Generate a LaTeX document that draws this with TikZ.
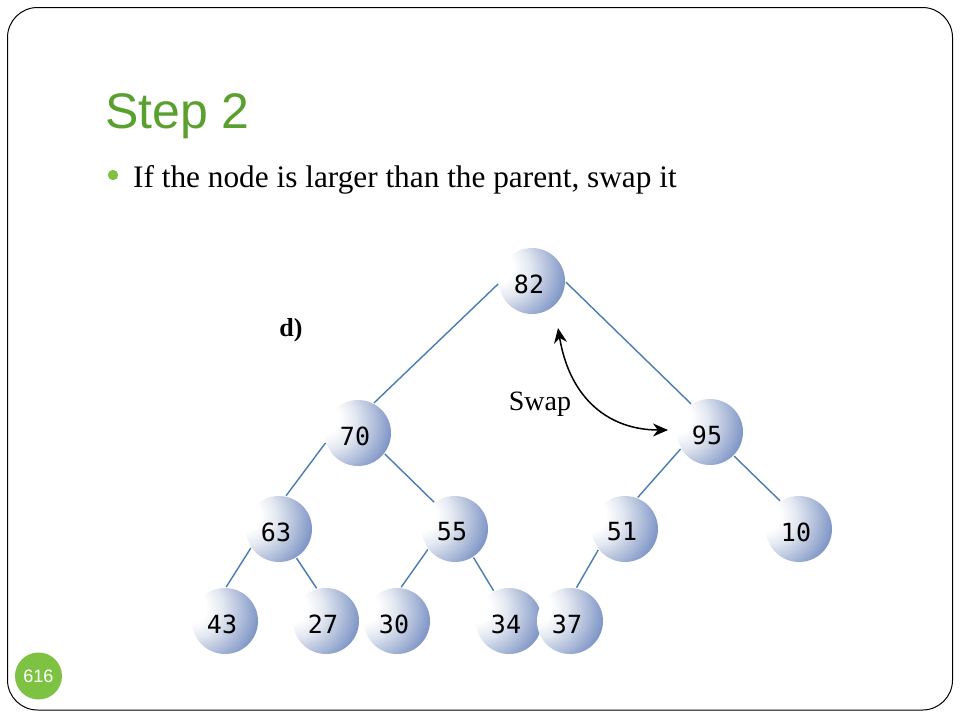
\documentclass[tikz,border=0pt]{standalone}
\usepackage{fontspec}
\setmainfont{Liberation Serif}
\newfontfamily\sansf{Liberation Sans}
\newfontfamily\monof{DejaVu Sans Mono}
\usetikzlibrary{arrows.meta}
\definecolor{titlegreen}{HTML}{5AA02E}
\definecolor{dotgreen}{HTML}{7DC243}
\definecolor{edgeblue}{HTML}{4A7CB4}
\definecolor{bA}{HTML}{E2E7F0}
\definecolor{bB}{HTML}{AFBDDA}
\definecolor{bC}{HTML}{7890C4}
\definecolor{bD}{HTML}{4C6BAA}
\definecolor{bE}{HTML}{38589A}
\pgfdeclareradialshading{heapball}{\pgfpoint{-30bp}{12bp}}{%
  color(0bp)=(white); color(12bp)=(white); color(22bp)=(bA);
  color(33bp)=(bB); color(44bp)=(bC); color(53bp)=(bD); color(100bp)=(bE)}
\tikzset{
  heapnode/.style={circle, minimum size=66pt, inner sep=0pt, outer sep=1pt, shading=heapball},
  numtext/.style={font=\monof\fontsize{25}{25}\selectfont, inner sep=0pt},
  tedge/.style={draw=edgeblue, line width=1.4pt},
}
\newcommand\heapn[3]{%
  \node[heapnode] (#1) at (#2) {};
  \node[numtext] (#1t) at ([shift={(-3,3)}]#1.center) {#3};}
\begin{document}
\begin{tikzpicture}[x=1pt,y=-1pt]
\useasboundingbox (0,0) rectangle (960,720);
\fill[white] (0,0) rectangle (960,720);
% frame
\draw[line width=1pt, rounded corners=30pt] (7.5,7.5) rectangle (952.5,710);
% title
\node[anchor=base west, inner sep=0pt, text=titlegreen, font=\sansf\fontsize{50}{50}\selectfont] (title) at (105,128) {Step 2};
% bullet
\fill[dotgreen] (113,175) circle (5.2pt);
\node[anchor=base west, inner sep=0pt, font=\fontsize{31.3}{31.3}\selectfont] (bullet) at (133,187) {If the node is larger than the parent, swap it};
% page number
\node[circle, fill=dotgreen, minimum size=47pt, inner sep=0pt, text=white, font=\sansf\fontsize{18}{18}\selectfont] (pnum) at (38.5,676) {616};
% label d)
\node[font=\fontsize{26}{26}\selectfont\bfseries, inner sep=0pt] (dlab) at (291,330) {d)};
% nodes
\heapn{n82}{532,281}{82}
\heapn{n70}{358,433}{70}
\heapn{n95}{710,432}{95}
\heapn{n63}{279,529}{63}
\heapn{n55}{455,529}{55}
\heapn{n51}{625,529}{51}
\heapn{n10}{799,529}{10}
\heapn{n43}{225,621}{43}
\heapn{n27}{326,621}{27}
\heapn{n30}{397,621}{30}
\heapn{n34}{509,621}{34}
\heapn{n37}{570,621}{37}
% edges
\draw[tedge] (n82.185) -- (n70.62);
\draw[tedge] (n82.-2) -- (n95.124);
\draw[tedge] (n70.197) -- (n63.78);
\draw[tedge] (n70.-38) -- (n55.128);
\draw[tedge] (n95.210) -- (n51.68);
\draw[tedge] (n95.-45) -- (n10.124);
\draw[tedge] (n63.214) -- (n43.88);
\draw[tedge] (n63.-59) -- (n27.106);
\draw[tedge] (n55.217) -- (n30.83);
\draw[tedge] (n55.-57) -- (n34.117);
\draw[tedge] (n51.218) -- (n37.79);
% swap arrow
\coordinate (swA) at (558,328);
\coordinate (swB) at (668,430);
\draw[line width=1.5pt, {Stealth[length=15pt,width=13pt]}-{Stealth[length=15pt,width=13pt]}]
  (swA) .. controls (570,400) and (610,430) .. (swB);
\node[font=\fontsize{28}{28}\selectfont, inner sep=0pt] (swap) at (540,404) {Swap};
\end{tikzpicture}
\end{document}
